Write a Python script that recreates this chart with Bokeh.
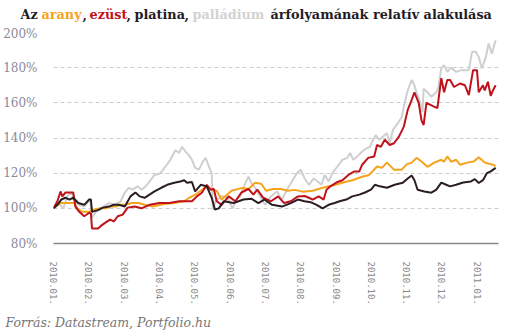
from bokeh.plotting import figure
from bokeh.models import Label, FixedTicker, Range1d
from bokeh.layouts import column, row
from bokeh.embed import file_html
from bokeh.resources import INLINE

# x positions are in months since 2010.01. (0 = start of Jan 2010)
month_ticks = list(range(13))
month_labels = ["2010.01.", "2010.02.", "2010.03.", "2010.04.", "2010.05.", "2010.06.",
                "2010.07.", "2010.08.", "2010.09.", "2010.10.", "2010.11.", "2010.12.", "2011.01."]
y_ticks = [80, 100, 120, 140, 160, 180, 200]
y_tick_labels = ["80%", "100%", "120%", "140%", "160%", "180%", "200%"]

# Gold (arany)
gold_t = [0.00, 0.20, 0.45, 0.59, 0.67, 0.81, 1.01, 1.09, 1.32, 1.48, 1.62, 1.76, 1.90, 2.04, 2.21, 2.41,
          2.58, 2.80, 3.14, 3.42, 3.70, 3.84, 4.03, 4.17, 4.31, 4.45, 4.62, 4.76, 4.87, 5.04, 5.32, 5.52,
          5.71, 5.88, 6.02, 6.22, 6.44, 6.64, 6.83, 7.06, 7.34, 7.62, 7.98, 8.26, 8.46, 8.74, 8.94, 9.16,
          9.30, 9.44, 9.64, 9.86, 10.00, 10.14, 10.28, 10.42, 10.59, 10.78, 10.98, 11.06, 11.15, 11.26,
          11.40, 11.51, 11.71, 11.90, 12.04, 12.21, 12.44, 12.52]
gold_v = [100, 103, 103, 103, 100, 98, 98, 99, 100, 100, 101, 101, 102, 102, 103, 103,
          102, 101, 102.5, 103, 104, 106, 108, 110, 112, 111, 110, 105, 107, 110, 111.5, 111,
          114.5, 114, 110, 111, 111, 110, 110.5, 109.5, 110, 111.7, 113.4, 115, 116, 118, 119, 123.8,
          123, 126, 122, 122, 125, 126, 128.7, 126.6, 123.6, 126, 127.6, 126.6, 129.5, 126.5,
          127.6, 124.8, 126, 126.6, 129, 126, 124.8, 124]

# Silver (ezüst)
silver_t = [0.00, 0.11, 0.20, 0.25, 0.34, 0.56, 0.62, 0.73, 0.87, 1.01, 1.06, 1.09, 1.26, 1.34, 1.48, 1.60,
            1.71, 1.82, 1.96, 2.10, 2.30, 2.49, 2.72, 3.00, 3.28, 3.56, 3.92, 4.06, 4.20, 4.34, 4.45, 4.54,
            4.62, 4.76, 4.96, 5.15, 5.32, 5.52, 5.66, 5.77, 5.94, 6.16, 6.36, 6.53, 6.72, 6.92, 7.11, 7.23,
            7.34, 7.51, 7.65, 7.73, 7.84, 8.04, 8.18, 8.35, 8.52, 8.66, 8.74, 8.91, 9.08, 9.16, 9.27, 9.38,
            9.52, 9.64, 9.78, 9.92, 10.03, 10.14, 10.22, 10.34, 10.42, 10.48, 10.56, 10.76, 10.87, 10.98,
            11.06, 11.15, 11.23, 11.34, 11.51, 11.65, 11.76, 11.88, 11.99, 12.04, 12.16, 12.21, 12.30,
            12.38, 12.44, 12.52]
silver_v = [100, 104, 109.6, 106.8, 109, 109, 101, 98, 95.5, 97.5, 97, 88.5, 88.5, 90, 92, 93.6,
            92.6, 95.5, 96.4, 100.4, 101, 100, 102, 103, 103, 104, 104, 106.8, 108.9, 113.4, 110.6, 111,
            104, 102, 106.8, 104, 109, 111, 107.8, 110.6, 106, 104, 106.8, 103, 104, 106.8, 107, 106,
            105, 106.8, 105, 110.6, 112.5, 115, 116, 119, 121, 121, 124.8, 128.7, 129.5, 136, 135, 139,
            136, 137, 140.8, 146.5, 156, 161.6, 166, 160, 150, 147.4, 160, 158, 157, 174,
            166, 173, 173, 169, 171, 170, 164.4, 178.6, 178.6, 166, 170, 167, 172,
            164, 167, 170]

# Platinum (platina)
plat_t = [0.00, 0.11, 0.22, 0.34, 0.45, 0.56, 0.70, 0.87, 1.01, 1.06, 1.09, 1.26, 1.40, 1.57, 1.71, 1.85,
          2.02, 2.18, 2.32, 2.44, 2.58, 2.72, 2.86, 3.05, 3.22, 3.42, 3.59, 3.70, 3.78, 3.92, 4.01, 4.17,
          4.34, 4.48, 4.57, 4.68, 4.82, 5.10, 5.38, 5.60, 5.80, 5.97, 6.19, 6.47, 6.72, 6.92, 7.11, 7.28,
          7.45, 7.62, 7.79, 7.96, 8.10, 8.29, 8.46, 8.66, 8.82, 8.99, 9.10, 9.24, 9.44, 9.66, 9.89, 10.03,
          10.14, 10.22, 10.31, 10.50, 10.70, 10.84, 10.98, 11.12, 11.23, 11.40, 11.60, 11.82, 11.93,
          12.04, 12.16, 12.27, 12.38, 12.52]
plat_v = [100, 102, 105, 106, 105, 106, 103, 102, 105, 105, 98, 99, 100.4, 101, 102, 102,
          101, 106.8, 109, 106.8, 106, 107.8, 109.6, 111.7, 113.4, 114.5, 115.3, 116, 114.5, 115, 109.6, 113.4,
          112.5, 106, 99.3, 100, 104, 103, 105, 105.5, 103, 105, 102, 101, 103, 105, 104, 103.5,
          102, 100, 102, 103, 104, 105, 106.8, 107.8, 109, 110.6, 113.4, 112.5, 111.7, 113.4, 114.5, 117,
          118.7, 116, 110.6, 109.6, 108.9, 110.6, 114.6, 113.4, 112.5, 113.4, 114.7, 115.3, 116.6,
          114.4, 116, 120, 121, 123]

# Palladium (palládium)
pall_t = [0.00, 0.14, 0.28, 0.39, 0.50, 0.62, 0.73, 0.87, 0.95, 1.04, 1.09, 1.20, 1.37, 1.57, 1.74, 1.90,
          2.02, 2.13, 2.24, 2.38, 2.49, 2.61, 2.75, 2.86, 3.03, 3.17, 3.31, 3.45, 3.56, 3.64, 3.75, 3.84,
          3.92, 4.01, 4.12, 4.23, 4.31, 4.40, 4.48, 4.51, 4.59, 4.76, 4.93, 5.07, 5.18, 5.29, 5.41, 5.52,
          5.60, 5.71, 5.85, 5.99, 6.16, 6.33, 6.47, 6.61, 6.75, 6.89, 7.00, 7.11, 7.23, 7.37, 7.48, 7.59,
          7.68, 7.79, 7.90, 8.04, 8.18, 8.32, 8.40, 8.49, 8.60, 8.74, 8.85, 8.96, 9.05, 9.13, 9.22, 9.33,
          9.44, 9.52, 9.61, 9.75, 9.86, 9.94, 10.03, 10.14, 10.20, 10.28, 10.36, 10.45, 10.48, 10.56,
          10.70, 10.84, 10.90, 10.98, 11.06, 11.15, 11.26, 11.40, 11.54, 11.76, 11.85, 11.96, 12.04,
          12.13, 12.24, 12.32, 12.41, 12.52]
pall_v = [100, 103, 100, 106.8, 109, 104, 102, 101, 103, 105, 94.6, 98, 100.4, 103, 102, 104,
          109, 111.7, 110.6, 112.5, 110.6, 112.5, 116, 119, 120, 123.8, 127.6, 133, 131.5, 135, 132, 130,
          127.6, 123, 122, 126.6, 128.7, 123.8, 120, 99.3, 104, 107, 106, 100, 105, 106.8, 113.4, 118,
          114.5, 111.7, 106.8, 102, 106.8, 109.6, 105, 110.6, 115.3, 120, 122, 117, 113.4, 117, 115.3, 113.4,
          119, 115.3, 120, 123.8, 127.6, 128.7, 131.5, 127.6, 129.5, 132.3, 134, 135, 139, 141.7, 139, 140.8,
          142.7, 137, 144.6, 148.4, 152, 159.7, 167, 173, 171, 166, 161.6, 155, 168, 166.6,
          163.5, 166, 169, 179.7, 181.4, 177.6, 180, 177.6, 178.6, 178.6, 189, 189, 186,
          179.5, 186, 193.7, 188, 195.6]

GOLD = "#F5A31A"
RED = "#C0121B"
DARK = "#2B1D22"
GREY = "#CFCFCF"
INK = "#1f1b24"
SERIF = "DejaVu Serif"


def blank_strip(h):
    f = figure(width=510, height=h, output_backend="svg", toolbar_location=None,
               x_range=Range1d(0, 510), y_range=Range1d(h, 0),
               x_axis_type=None, y_axis_type=None,
               min_border_left=0, min_border_right=0, min_border_top=0, min_border_bottom=0)
    f.outline_line_color = None
    f.grid.visible = False
    return f


# ---- title strip (multi-coloured title) ----
head = blank_strip(26)
title_parts = [
    ("Az", 20, INK),
    ("arany", 41, GOLD),
    (",", 82, INK),
    ("ezüst", 89, RED),
    (",", 126, INK),
    ("platina", 134, INK),
    (",", 184, INK),
    ("palládium", 192, "#d2d2d2"),
    ("árfolyamának relatív alakulása", 270, INK),
]
for txt, cx, col in title_parts:
    head.add_layout(Label(x=cx, y=14, text=txt,
                          text_font=SERIF, text_font_style="bold", text_font_size="12.8px",
                          text_color=col, text_align="left", text_baseline="middle"))

# ---- main chart ----
p = figure(width=510, height=287, output_backend="svg", toolbar_location=None,
           x_range=Range1d(0, 12.6), y_range=Range1d(80, 200),
           min_border_left=48, min_border_right=12, min_border_top=6, min_border_bottom=70,
           background_fill_color="white", border_fill_color="white")
p.outline_line_color = None

p.line(pall_t, pall_v, line_color=GREY, line_width=2)
p.line(gold_t, gold_v, line_color=GOLD, line_width=2)
p.line(silver_t, silver_v, line_color=RED, line_width=2)
p.line(plat_t, plat_v, line_color=DARK, line_width=2)

p.xgrid.visible = False
p.ygrid.grid_line_color = "#cccccc"
p.ygrid.grid_line_dash = "4 3"
p.ygrid.grid_line_width = 1

p.yaxis.ticker = FixedTicker(ticks=y_ticks)
p.yaxis.major_label_overrides = {t: l for t, l in zip(y_ticks, y_tick_labels)}
p.yaxis.axis_line_color = None
p.yaxis.major_tick_line_color = None
p.yaxis.minor_tick_line_color = None
p.yaxis.major_label_standoff = 10
p.yaxis.major_label_text_font = SERIF
p.yaxis.major_label_text_font_size = "12px"
p.yaxis.major_label_text_color = "#8a8a9a"

p.xaxis.ticker = FixedTicker(ticks=month_ticks)
p.xaxis.major_label_overrides = {t: l for t, l in zip(month_ticks, month_labels)}
p.xaxis.major_label_orientation = "vertical"
p.xaxis.axis_line_color = "#888888"
p.xaxis.axis_line_width = 1.5
p.xaxis.major_tick_line_color = None
p.xaxis.minor_tick_line_color = None
p.xaxis.major_label_standoff = 12
p.xaxis.major_label_text_font = "DejaVu Sans Mono"
p.xaxis.major_label_text_font_size = "9px"
p.xaxis.major_label_text_color = "#888888"

# ---- source strip ----
foot = blank_strip(23)
foot.add_layout(Label(x=5, y=9, text="Forrás: Datastream, Portfolio.hu",
                      text_font=SERIF, text_font_style="italic", text_font_size="12.5px",
                      text_color="#777777", text_align="left", text_baseline="middle"))

layout = column(row(head), p, row(foot), spacing=0)
open("out.html", "w").write(file_html(layout, INLINE))
